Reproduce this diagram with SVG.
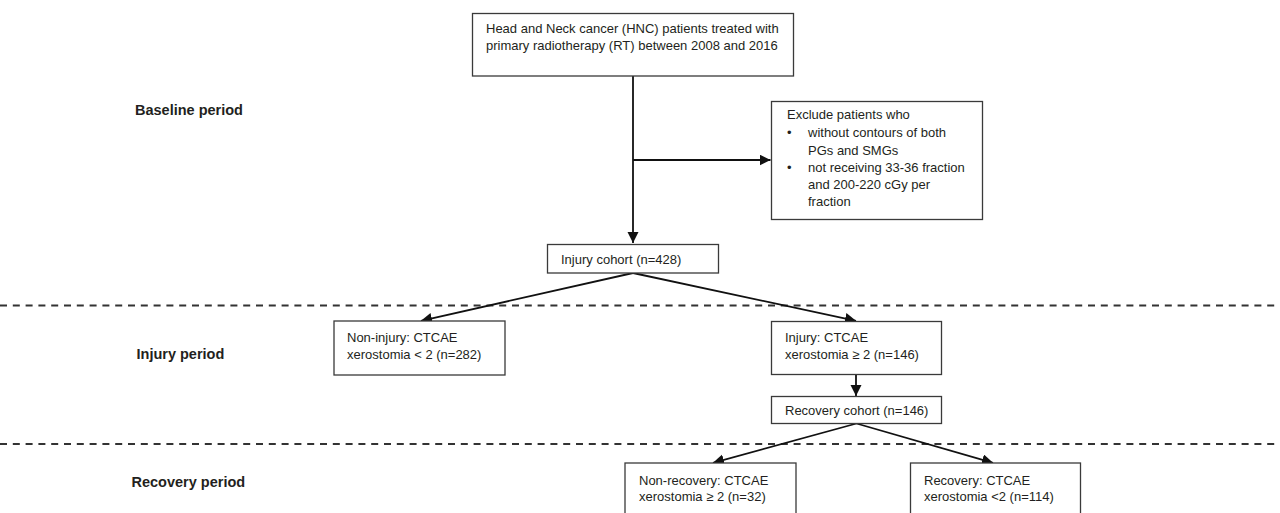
<svg xmlns="http://www.w3.org/2000/svg" width="1280" height="513" viewBox="0 0 1280 513">
<style>
.box{fill:#fff;stroke:#3a3a3a;stroke-width:1.3}
.t{font-family:"Liberation Sans",Arial,sans-serif;font-size:13px;fill:#231f20}
.lbl{font-family:"Liberation Sans",Arial,sans-serif;font-size:14.5px;font-weight:bold;fill:#231f20}
.c{fill:none;stroke:#111;stroke-width:1.8}
.dash{fill:none;stroke:#333;stroke-width:1.8;stroke-dasharray:7 5.8}
</style>
<defs>
<marker id="ah" markerUnits="userSpaceOnUse" markerWidth="12" markerHeight="12" refX="11" refY="5.5" orient="auto">
<path d="M0,0 L11,5.5 L0,11 z" fill="#111"/>
</marker>
</defs>
<rect width="1280" height="513" fill="#fff"/>
<g id="periods">
<line class="dash" x1="0" y1="305.5" x2="1280" y2="305.5"/>
<line class="dash" x1="0" y1="444" x2="1280" y2="444"/>
<text class="lbl" x="135" y="115">Baseline period</text>
<text class="lbl" x="136.5" y="359">Injury period</text>
<text class="lbl" x="131.5" y="486.5">Recovery period</text>
</g>
<g id="connectors">
<path class="c" d="M633,76 V243" marker-end="url(#ah)"/>
<path class="c" d="M633,160 H770.5" marker-end="url(#ah)"/>
<path class="c" d="M633,273 L421,320.8" marker-end="url(#ah)"/>
<path class="c" d="M633,273 L856,320.8" marker-end="url(#ah)"/>
<path class="c" d="M856,374 V396" marker-end="url(#ah)"/>
<path class="c" d="M856.5,423.5 L713,462.8" marker-end="url(#ah)"/>
<path class="c" d="M856.5,423.5 L993,462.8" marker-end="url(#ah)"/>
</g>
<g id="n_start">
<rect class="box" x="472.5" y="13.5" width="321" height="62.5"/>
<text class="t" x="486" y="32.5">Head and Neck cancer (HNC) patients treated with</text>
<text class="t" x="486" y="50">primary radiotherapy (RT) between 2008 and 2016</text>
</g>
<g id="n_exclude">
<rect class="box" x="771.5" y="101.5" width="211" height="118"/>
<text class="t" x="787" y="119">Exclude patients who</text>
<text class="t" x="787" y="137.3">•</text>
<text class="t" x="808" y="137.3">without contours of both</text>
<text class="t" x="808" y="154.5">PGs and SMGs</text>
<text class="t" x="787" y="171.7">•</text>
<text class="t" x="808" y="171.7">not receiving 33-36 fraction</text>
<text class="t" x="808" y="189">and 200-220 cGy per</text>
<text class="t" x="808" y="205.5">fraction</text>
</g>
<g id="n_injury_cohort">
<rect class="box" x="547.5" y="244.5" width="171" height="28.5"/>
<text class="t" x="561" y="264">Injury cohort (n=428)</text>
</g>
<g id="n_noninjury">
<rect class="box" x="334" y="321" width="171" height="54"/>
<text class="t" x="347" y="342">Non-injury: CTCAE</text>
<text class="t" x="347" y="358.5">xerostomia &lt; 2 (n=282)</text>
</g>
<g id="n_injury">
<rect class="box" x="771.5" y="321.5" width="170" height="53"/>
<text class="t" x="785" y="342.3">Injury: CTCAE</text>
<text class="t" x="785" y="359">xerostomia ≥ 2 (n=146)</text>
</g>
<g id="n_recovery_cohort">
<rect class="box" x="771.5" y="396.5" width="170" height="27"/>
<text class="t" x="785" y="415">Recovery cohort (n=146)</text>
</g>
<g id="n_nonrecovery">
<rect class="box" x="625" y="463" width="171" height="60"/>
<text class="t" x="639" y="484.7">Non-recovery: CTCAE</text>
<text class="t" x="639" y="500.7">xerostomia ≥ 2 (n=32)</text>
</g>
<g id="n_recovery">
<rect class="box" x="910.5" y="463" width="170" height="60"/>
<text class="t" x="924" y="484.7">Recovery: CTCAE</text>
<text class="t" x="924" y="500.7">xerostomia &lt;2 (n=114)</text>
</g>
</svg>
